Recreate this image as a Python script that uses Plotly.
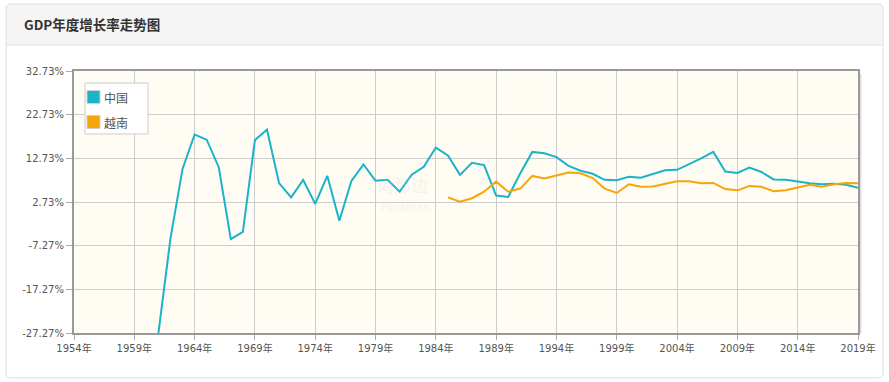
import plotly.graph_objects as go

# ---------------- data ----------------
china_years = list(range(1961, 2020))
china_growth = [-27.27, -5.58, 10.3, 18.18, 17.0, 10.7, -5.77, -4.1, 16.9, 19.3,
                7.06, 3.81, 7.76, 2.31, 8.72, -1.57, 7.57, 11.33, 7.6, 7.81,
                5.11, 9.0, 10.8, 15.2, 13.4, 8.95, 11.7, 11.2, 4.2, 3.9,
                9.3, 14.2, 13.9, 13.0, 11.0, 9.9, 9.2, 7.8, 7.7, 8.5,
                8.3, 9.1, 10.0, 10.1, 11.4, 12.7, 14.2, 9.7, 9.4, 10.6,
                9.6, 7.9, 7.8, 7.4, 7.0, 6.8, 6.9, 6.7, 6.0]

vietnam_years = list(range(1985, 2020))
vietnam_growth = [3.8, 2.8, 3.6, 5.1, 7.4, 5.1, 5.8, 8.7, 8.1, 8.8,
                  9.5, 9.3, 8.2, 5.8, 4.8, 6.8, 6.2, 6.3, 6.9, 7.5,
                  7.5, 7.0, 7.1, 5.7, 5.4, 6.4, 6.2, 5.2, 5.4, 6.0,
                  6.7, 6.2, 6.8, 7.1, 7.0]

series_names = ["中国", "越南"]
x_tick_years = list(range(1954, 2020, 5))
x_tick_labels = [f"{y}年" for y in x_tick_years]
y_tick_vals = [-27.27, -17.27, -7.27, 2.73, 12.73, 22.73, 32.73]
y_tick_labels = [f"{v:.2f}%" for v in y_tick_vals]
title_text = "GDP年度增长率走势图"

# ---------------- styling ----------------
W, H = 889, 382
L, R, T, B = 74, 858, 71, 333
colors = ["#1ab3c9", "#f5a50a"]


def px(x):
    return (x - L) / (R - L)


def py(y):
    return (B - y) / (B - T)


fig = go.Figure()
for name, xs, ys, c in [(series_names[0], china_years, china_growth, colors[0]),
                        (series_names[1], vietnam_years, vietnam_growth, colors[1])]:
    fig.add_trace(go.Scatter(x=xs, y=ys, mode="lines", name=name,
                             line=dict(color=c, width=2), showlegend=False,
                             hovertemplate="%{x}年: %{y:.2f}%<extra>" + name + "</extra>"))


def rounded_rect(x0, y0, x1, y1, r):
    pts = [
        f"M {px(x0 + r)} {py(y0)}",
        f"L {px(x1 - r)} {py(y0)}",
        f"Q {px(x1)} {py(y0)} {px(x1)} {py(y0 + r)}",
        f"L {px(x1)} {py(y1 - r)}",
        f"Q {px(x1)} {py(y1)} {px(x1 - r)} {py(y1)}",
        f"L {px(x0 + r)} {py(y1)}",
        f"Q {px(x0)} {py(y1)} {px(x0)} {py(y1 - r)}",
        f"L {px(x0)} {py(y0 + r)}",
        f"Q {px(x0)} {py(y0)} {px(x0 + r)} {py(y0)}",
        "Z",
    ]
    return " ".join(pts)


def header_path(x0, y0, x1, y1, r):
    pts = [
        f"M {px(x0 + r)} {py(y0)}",
        f"L {px(x1 - r)} {py(y0)}",
        f"Q {px(x1)} {py(y0)} {px(x1)} {py(y0 + r)}",
        f"L {px(x1)} {py(y1)}",
        f"L {px(x0)} {py(y1)}",
        f"L {px(x0)} {py(y0 + r)}",
        f"Q {px(x0)} {py(y0)} {px(x0 + r)} {py(y0)}",
        "Z",
    ]
    return " ".join(pts)


shapes = [
    dict(type="path", xref="paper", yref="paper", path=header_path(6, 4, 883, 45, 5),
         fillcolor="#f5f5f5", line=dict(width=0), layer="below"),
    dict(type="line", xref="paper", yref="paper", x0=px(6), x1=px(883), y0=py(45), y1=py(45),
         line=dict(color="#e2e2e2", width=1), layer="below"),
    dict(type="path", xref="paper", yref="paper", path=rounded_rect(6, 4, 883, 378, 5),
         line=dict(color="#dedede", width=1), layer="below"),
    dict(type="line", xref="paper", yref="paper", x0=px(R + 2.5), x1=px(R + 2.5), y0=py(B + 1), y1=py(T + 3),
         line=dict(color="#e0e0e0", width=2), layer="below"),
    # legend box
    dict(type="rect", xref="paper", yref="paper", x0=px(85), x1=px(148), y0=py(134), y1=py(83),
         fillcolor="white", line=dict(color="#cccccc", width=1), layer="above"),
]

annotations = [
    dict(text=f"<b>{title_text}</b>", xref="paper", yref="paper", x=px(22), y=py(24),
         xanchor="left", yanchor="middle", showarrow=False,
         font=dict(size=13.5, color="#333", family="Noto Sans CJK SC, sans-serif")),
    dict(text="海那边", xref="paper", yref="paper", x=px(402), y=py(184),
         xanchor="center", yanchor="middle", showarrow=False,
         font=dict(size=17, color="rgba(215,215,215,0.3)", family="Noto Sans CJK SC, sans-serif")),
    dict(text="Hinabian", xref="paper", yref="paper", x=px(405), y=py(207),
         xanchor="center", yanchor="middle", showarrow=False,
         font=dict(size=11, color="rgba(215,215,215,0.3)", family="DejaVu Sans, sans-serif")),
]

# manual legend entries
for i, (name, c) in enumerate(zip(series_names, colors)):
    cy = 97 + i * 25
    shapes.append(dict(type="rect", xref="paper", yref="paper",
                       x0=px(87), x1=px(100), y0=py(cy + 6.5), y1=py(cy - 6.5),
                       fillcolor=c, line=dict(color="#d0d0d0", width=1), layer="above"))
    annotations.append(dict(text=name, xref="paper", yref="paper", x=px(102), y=py(cy),
                            xanchor="left", yanchor="middle", showarrow=False,
                            font=dict(size=12, color="#555", family="Noto Sans CJK SC, sans-serif")))

fig.update_layout(
    width=W, height=H,
    margin=dict(l=L, r=W - R, t=T, b=H - B, pad=0),
    paper_bgcolor="white",
    plot_bgcolor="#fffcf3",
    shapes=shapes,
    annotations=annotations,
    showlegend=False,
    font=dict(family="DejaVu Sans, Noto Sans CJK SC, sans-serif", size=10, color="#555"),
    hovermode="closest",
)

fig.update_xaxes(range=[1954, 2019], tickvals=x_tick_years, ticktext=x_tick_labels,
                 showgrid=True, gridcolor="#cccccc", gridwidth=1,
                 showline=True, linecolor="#999999", linewidth=2, mirror=True,
                 ticks="outside", ticklen=5, tickcolor="#aaaaaa", tickwidth=1,
                 zeroline=False, tickfont=dict(size=10, color="#555"))
fig.update_yaxes(range=[-27.27, 32.73], tickvals=y_tick_vals, ticktext=y_tick_labels,
                 showgrid=True, gridcolor="#cccccc", gridwidth=1,
                 showline=True, linecolor="#999999", linewidth=2, mirror=True,
                 ticks="outside", ticklen=6, tickcolor="#aaaaaa", tickwidth=1,
                 zeroline=False, tickfont=dict(size=10, color="#555"))

fig.write_html("out.html", config={"displayModeBar": False},
               post_script="document.body.style.margin='0';document.body.style.padding='0';")
